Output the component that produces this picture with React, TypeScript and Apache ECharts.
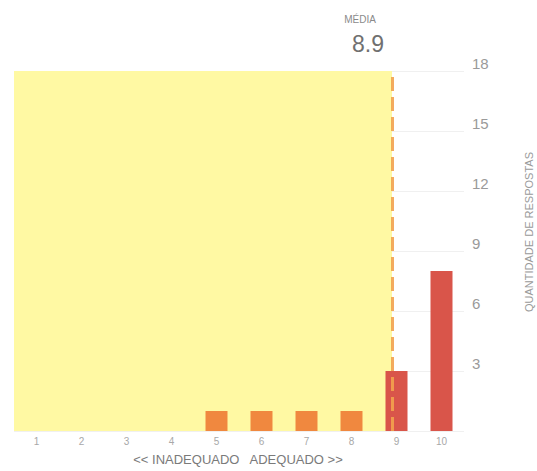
import React, { useEffect, useRef } from "react";
import * as echarts from "echarts";

// ---- data ----
const categories = ["1", "2", "3", "4", "5", "6", "7", "8", "9", "10"];
const responses = [0, 0, 0, 0, 1, 1, 1, 1, 3, 8];
const meanScore = 8.9;
const yMax = 18;
const yInterval = 3;
const meanLabel = "MÉDIA";
const xAxisTitle = "<< INADEQUADO   ADEQUADO >>";
const yAxisTitle = "QUANTIDADE DE RESPOSTAS";

const FONT = "'Liberation Sans', Arial, Helvetica, sans-serif";
const ORANGE = "#F0883F";
const RED = "#D9554A";
const YELLOW = "#FFF9A3";
const DASH = "#F2A24E";

export default function App() {
  const ref = useRef<HTMLDivElement>(null);

  useEffect(() => {
    if (!ref.current) return;
    const chart = echarts.init(ref.current, null, { renderer: "svg" });
    const xMin = 0.5;
    const xMax = categories.length + 0.5;
    chart.setOption({
      animation: false,
      backgroundColor: "#ffffff",
      textStyle: { fontFamily: FONT },
      grid: { left: 14, right: 73, top: 71, bottom: 40, containLabel: false },
      xAxis: [
        {
          type: "category",
          data: categories,
          axisLine: { show: false },
          axisTick: { show: false },
          axisLabel: { color: "#a8a8a8", fontSize: 10, margin: 5, fontFamily: FONT },
          splitLine: { show: false },
        },
        {
          type: "value",
          min: xMin,
          max: xMax,
          show: false,
          splitLine: { show: false },
        },
      ],
      yAxis: {
        type: "value",
        position: "right",
        min: 0,
        max: yMax,
        interval: yInterval,
        axisLine: { show: false },
        axisTick: { show: false },
        axisLabel: {
          color: "#9a9a9a",
          fontSize: 15,
          margin: 8,
          verticalAlign: "bottom",
          fontFamily: FONT,
          formatter: (v: number) => (v === 0 ? "" : String(v)),
        },
        splitLine: { show: true, lineStyle: { color: "#f0f0f0", width: 1 } },
      },
      series: [
        {
          name: "mean",
          type: "line",
          xAxisIndex: 1,
          yAxisIndex: 0,
          data: [],
          z: 1,
          silent: true,
          markArea: {
            silent: true,
            itemStyle: { color: YELLOW },
            data: [[{ xAxis: xMin, yAxis: 0 }, { xAxis: meanScore, yAxis: yMax }]],
          },
        },
        {
          name: "respostas",
          type: "bar",
          xAxisIndex: 0,
          yAxisIndex: 0,
          data: responses,
          barWidth: 22,
          z: 3,
          itemStyle: {
            color: (p: any) => (Number(categories[p.dataIndex]) < meanScore ? ORANGE : RED),
          },
        },
        {
          name: "meanLine",
          type: "line",
          xAxisIndex: 1,
          yAxisIndex: 0,
          data: [],
          z: 5,
          silent: true,
          markLine: {
            silent: true,
            z: 5,
            symbol: ["none", "none"],
            label: { show: false },
            lineStyle: { color: DASH, width: 3, type: [14, 6], opacity: 0.9 },
            data: [{ xAxis: meanScore }],
          },
        },
      ],
      graphic: [
        {
          type: "text",
          x: 360,
          y: 19,
          style: {
            text: meanLabel,
            fontSize: 10,
            fill: "#8a8a8a",
            fontFamily: FONT,
            align: "center",
            verticalAlign: "middle",
          },
        },
        {
          type: "text",
          x: 368,
          y: 44,
          style: {
            text: meanScore.toFixed(1),
            fontSize: 23,
            fill: "#707070",
            fontFamily: FONT,
            align: "center",
            verticalAlign: "middle",
          },
        },
        {
          type: "text",
          x: 238,
          y: 459,
          style: {
            text: xAxisTitle,
            fontSize: 13,
            fill: "#7a7a7a",
            fontFamily: FONT,
            align: "center",
            verticalAlign: "middle",
          },
        },
        {
          type: "text",
          x: 529,
          y: 232,
          rotation: Math.PI / 2,
          style: {
            text: yAxisTitle,
            fontSize: 11,
            fill: "#9a9a9a",
            fontFamily: FONT,
            align: "center",
            verticalAlign: "middle",
          },
        },
      ],
    });
    return () => chart.dispose();
  }, []);

  return <div ref={ref} style={{ width: 537, height: 471, position: "absolute", left: 0, top: 0 }} />;
}
